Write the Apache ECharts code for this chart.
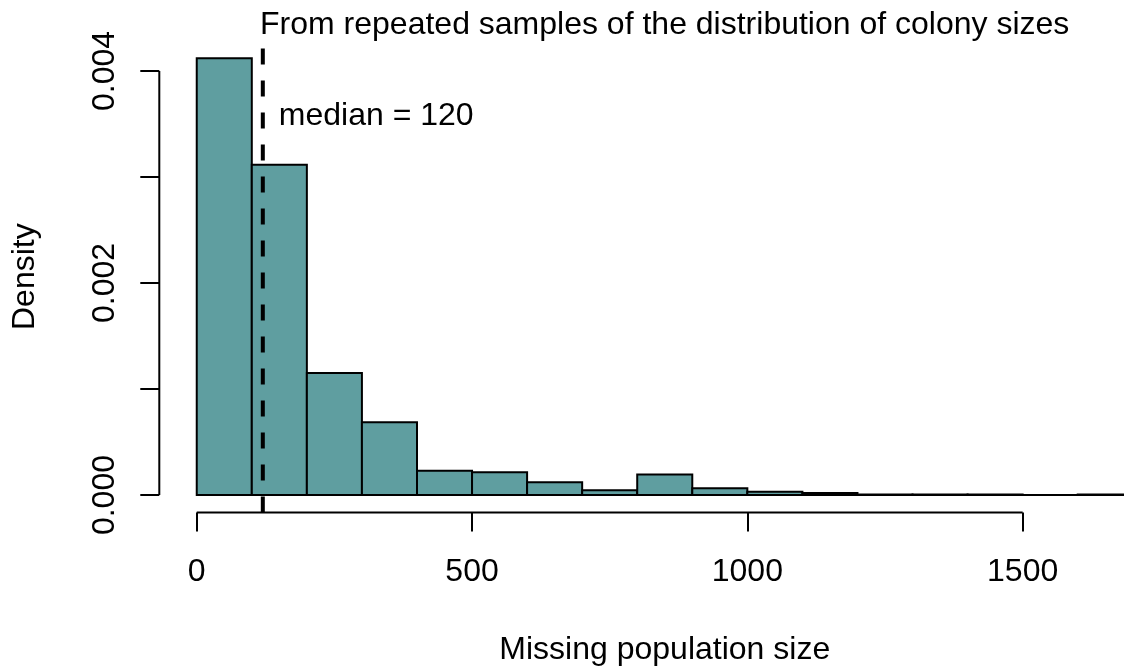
<!DOCTYPE html>
<html>
<head>
<meta charset="utf-8">
<script src="https://cdn.jsdelivr.net/npm/echarts@6/dist/echarts.min.js"></script>
<style>
html,body{margin:0;padding:0;background:#fff;}
#chart{width:1124px;height:671px;}
</style>
</head>
<body>
<div id="chart"></div>
<script>
// ---- data ----
const binStarts = [0,100,200,300,400,500,600,700,800,900,1000,1100,1200,1300,1400,1500,1600];
const binWidth = 100;
const densities = [0.00412,0.003116,0.00115,0.000686,0.000229,0.000215,0.00012,0.000045,0.000193,0.000065,0.00003,0.000018,0.000006,0.000004,0.000004,0,0.000004];
const xTicks = [0,500,1000,1500];
const yTicks = [0,0.001,0.002,0.003,0.004];
const yTickLabels = [0,0.002,0.004];
const medianValue = 120;
const medianLabelY = 0.00357;
const titleText = 'From repeated samples of the distribution of colony sizes';
const xName = 'Missing population size';
const yName = 'Density';

// R-style axis extents (4% padding)
const xLo = 0, xHi = binStarts[binStarts.length-1] + binWidth;
const xPad = (xHi - xLo) * 0.04;
const xMin = xLo - xPad, xMax = xHi + xPad;
const yLo = 0, yHi = Math.max(...densities);
const yPad = (yHi - yLo) * 0.04;
const yMin = yLo - yPad, yMax = yHi + yPad;

const FONT = '"Liberation Sans", Arial, Helvetica, sans-serif';
const chart = echarts.init(document.getElementById('chart'));

const barData = binStarts.map((s,i)=>[s, s+binWidth, densities[i]]);

chart.setOption({
  animation: false,
  backgroundColor: '#ffffff',
  title: {
    text: titleText,
    left: 664.7, top: 9, textAlign: 'center', padding: 0,
    textStyle: {fontFamily: FONT, fontSize: 32, fontWeight: 'normal', color: '#000'}
  },
  grid: {left: 159.3, width: 1010.9, top: 40.8, bottom: 158.5, containLabel: false, outerBoundsMode: 'none'},
  xAxis: {
    type: 'value', min: xMin, max: xMax,
    name: xName, nameLocation: 'middle', nameGap: 122,
    nameTextStyle: {fontFamily: FONT, fontSize: 32, color: '#000'},
    axisLine: {show: false, onZero: false},
    splitLine: {show: false},
    axisTick: {show: true, customValues: xTicks, length: 19, lineStyle: {color: '#000', width: 2}},
    axisLabel: {show: true, customValues: xTicks, margin: 44, fontFamily: FONT, fontSize: 32, color: '#000',
      formatter: v => String(v)}
  },
  yAxis: {
    type: 'value', min: yMin, max: yMax,
    name: yName, nameLocation: 'middle', nameGap: 118.5,
    nameTextStyle: {fontFamily: FONT, fontSize: 32, color: '#000'},
    axisLine: {show: false, onZero: false},
    splitLine: {show: false},
    axisTick: {show: true, customValues: yTicks, length: 19, lineStyle: {color: '#000', width: 2}},
    axisLabel: {show: true, customValues: yTickLabels, rotate: 90, margin: 38.5, fontFamily: FONT, fontSize: 32, color: '#000',
      formatter: v => v.toFixed(3)}
  },
  series: [
    {
      type: 'custom',
      clip: true,
      data: barData,
      renderItem: function(params, api){
        const p0 = api.coord([api.value(0), api.value(2)]);
        const p1 = api.coord([api.value(1), 0]);
        return {
          type: 'rect',
          shape: {x: p0[0], y: p0[1], width: p1[0]-p0[0], height: p1[1]-p0[1]},
          style: {fill: '#5F9EA0', stroke: '#000', lineWidth: 2}
        };
      },
      z: 2
    },
    {
      type: 'line', clip: false, symbol: 'none', silent: true, z: 3,
      data: [[medianValue, yMin],[medianValue, yMax]],
      lineStyle: {color: '#000', width: 4, type: [16,16], cap: 'butt'}
    },
    {
      type: 'line', clip: false, symbol: 'none', silent: true, z: 3,
      data: [[xTicks[0], yMin],[xTicks[xTicks.length-1], yMin]],
      lineStyle: {color: '#000', width: 2}
    },
    {
      type: 'line', clip: false, symbol: 'none', silent: true, z: 3,
      data: [[xMin, yTicks[0]],[xMin, yTicks[yTicks.length-1]]],
      lineStyle: {color: '#000', width: 2}
    },
    {
      type: 'custom', silent: true, z: 4, clip: false,
      data: [[medianValue, medianLabelY]],
      renderItem: function(params, api){
        const p = api.coord([api.value(0), api.value(1)]);
        return {
          type: 'text',
          x: p[0] + 16, y: p[1],
          style: {text: 'median = ' + medianValue, fill: '#000',
            font: '32px ' + FONT, textAlign: 'left', textVerticalAlign: 'middle'}
        };
      }
    }
  ]
});
</script>
</body>
</html>
